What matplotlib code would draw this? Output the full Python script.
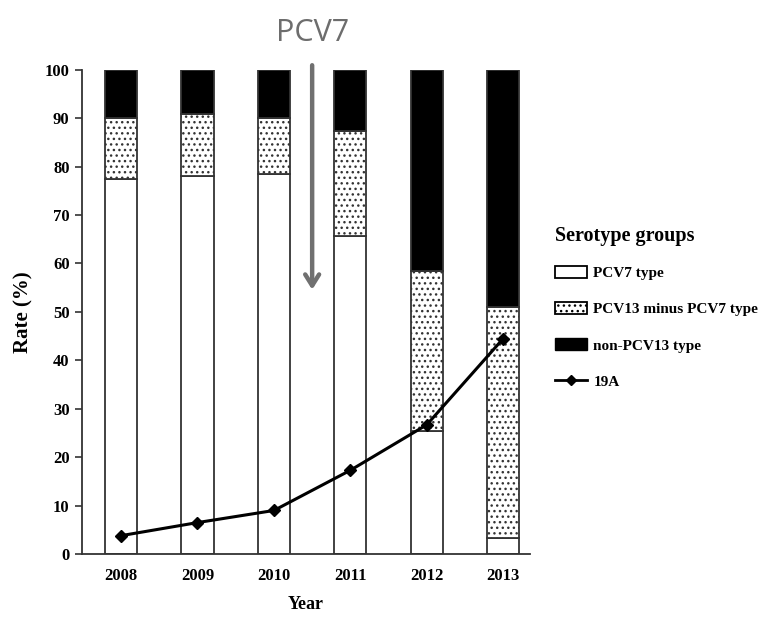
import matplotlib.pyplot as plt
import numpy as np
from matplotlib.lines import Line2D
from matplotlib.patches import Patch

plt.rcParams["hatch.linewidth"] = 1.0
plt.rcParams["hatch.color"] = "#333333"

years = ["2008", "2009", "2010", "2011", "2012", "2013"]
pcv7_type = [77.5, 78.0, 78.5, 65.7, 25.5, 3.3]
pcv13_minus_pcv7 = [12.5, 12.8, 11.5, 21.6, 33.0, 47.7]
non_pcv13 = [10.0, 9.2, 10.0, 12.7, 41.5, 49.0]
serotype_19a = [3.8, 6.5, 9.0, 17.3, 26.7, 44.5]

serif = ["Liberation Serif", "DejaVu Serif"]

fig = plt.figure(figsize=(7.67, 6.17), dpi=100)
ax = fig.add_axes([0.107, 0.102, 0.584, 0.785])

x = np.arange(len(years))
w = 0.42
edge = "#333333"
bottom2 = np.array(pcv7_type)
bottom3 = bottom2 + np.array(pcv13_minus_pcv7)

ax.bar(x, pcv7_type, w, color="white", edgecolor=edge, linewidth=1.3)
ax.bar(x, pcv13_minus_pcv7, w, bottom=bottom2, color="white",
       edgecolor=edge, linewidth=1.3, hatch="...")
ax.bar(x, non_pcv13, w, bottom=bottom3, color="black",
       edgecolor=edge, linewidth=1.3)
ax.plot(x, serotype_19a, color="black", lw=2.2, marker="D", ms=6.5)

ax.set_xlim(-0.51, 5.35)
ax.set_ylim(0, 100)
ax.set_yticks(range(0, 101, 10))
ax.set_xticks(x)
ax.set_xticklabels(years)
ax.tick_params(axis="x", length=0, pad=10)
ax.tick_params(axis="y", direction="out", length=5, width=1.2, color=edge, pad=4)
for lbl in ax.get_xticklabels() + ax.get_yticklabels():
    lbl.set_fontfamily(serif)
    lbl.set_fontweight("bold")
    lbl.set_fontsize(12)
for side in ["top", "right"]:
    ax.spines[side].set_visible(False)
for side in ["left", "bottom"]:
    ax.spines[side].set_color(edge)
    ax.spines[side].set_linewidth(1.3)

ax.set_ylabel("Rate (%)", family=serif, fontweight="bold", fontsize=15, labelpad=8)
ax.set_xlabel("Year", family=serif, fontweight="bold", fontsize=13, labelpad=9)

# vaccine introduction marker between 2010 and 2011
ax.annotate("", xy=(2.5, 54.0), xytext=(2.5, 101.5),
            arrowprops=dict(arrowstyle="->,head_length=0.8,head_width=0.5",
                            color="#707070", lw=3.2),
            annotation_clip=False)
ax.text(2.5, 107.5, "PCV7", ha="center", va="center", color="#6d6d6d",
        fontsize=22, family=["Open Sans", "DejaVu Sans"])

handles = [
    Patch(facecolor="white", edgecolor="black", linewidth=1.3, label="PCV7 type"),
    Patch(facecolor="white", edgecolor="black", linewidth=1.3, hatch="...",
          label="PCV13 minus PCV7 type"),
    Patch(facecolor="black", edgecolor="black", label="non-PCV13 type"),
    Line2D([], [], color="black", lw=2, marker="D", ms=5, label="19A"),
]
leg = fig.legend(handles=handles, loc="upper left", bbox_to_anchor=(0.716, 0.643),
                 frameon=False, title="Serotype groups", alignment="left",
                 prop=dict(family=serif, weight="bold", size=11),
                 handlelength=2.1, handleheight=0.8, handletextpad=0.4,
                 labelspacing=1.45, borderaxespad=0)
leg.get_title().set_fontfamily(serif)
leg.get_title().set_fontweight("bold")
leg.get_title().set_fontsize(14.5)
leg._legend_box.sep = 14

fig.savefig("out.png", dpi=100)
